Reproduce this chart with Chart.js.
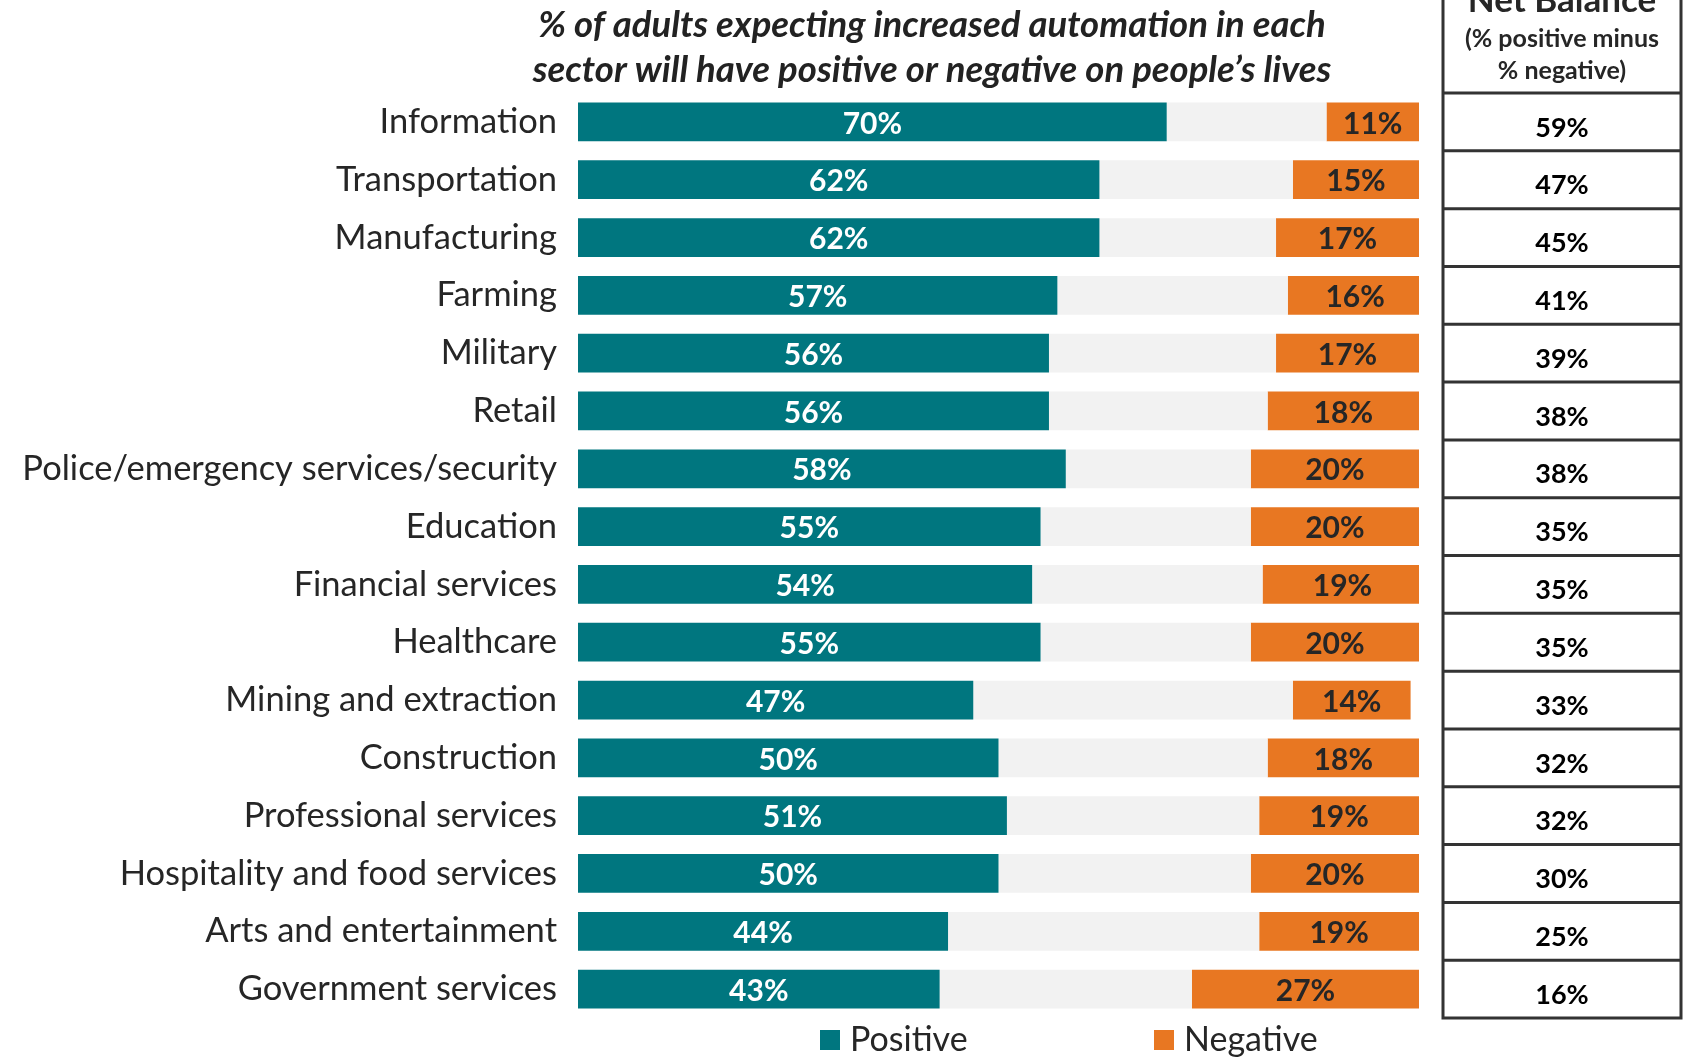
<!DOCTYPE html>
<html lang="en">

<head>
    <meta charset="UTF-8">
    <title>Automation by sector</title>
    <script src="https://cdn.jsdelivr.net/npm/chart.js"></script>
    <style>
        html, body { margin: 0; padding: 0; background: #fff; }
        .grafico { width: 1686px; height: 1057px; position: relative; }
    </style>
</head>

<body>
    <div class="grafico">
        <canvas id="graficoSetores"></canvas>
    </div>
</body>

</html>

<script>
    // sectors, top to bottom
    const setores = [
        'Information', 'Transportation', 'Manufacturing', 'Farming', 'Military', 'Retail',
        'Police/emergency services/security', 'Education', 'Financial services', 'Healthcare',
        'Mining and extraction', 'Construction', 'Professional services',
        'Hospitality and food services', 'Arts and entertainment', 'Government services'
    ];
    const positivo = [70, 62, 62, 57, 56, 56, 58, 55, 54, 55, 47, 50, 51, 50, 44, 43];
    // neither / don't know (grey middle part)
    const neutro = [19, 23, 21, 27.4, 27, 26, 22, 25, 27.4, 25, 38, 32, 30, 30, 37, 30];
    const negativo = [11, 15, 17, 16, 17, 18, 20, 20, 19, 20, 14, 18, 19, 20, 19, 27];
    const saldo = [59, 47, 45, 41, 39, 38, 38, 35, 35, 35, 33, 32, 32, 30, 25, 16];

    const titulo = [
        '% of adults expecting increased automation in each',
        'sector will have positive or negative on people\u2019s lives'
    ];
    const cabecalhoSaldo = ['Net Balance', '(% positive minus', '% negative)'];

    const TEAL = '#00767f';
    const LARANJA = '#e87722';
    const CINZA = '#f2f2f2';
    const FONTE = 'Lato, "Open Sans", sans-serif';

    // numbers inside the coloured bars
    const rotulosBarras = {
        id: 'rotulosBarras',
        afterDatasetsDraw(chart) {
            const ctx = chart.ctx;
            ctx.save();
            ctx.font = 'bold 30px ' + FONTE;
            ctx.textAlign = 'center';
            ctx.textBaseline = 'middle';
            [0, 2].forEach(d => {
                const meta = chart.getDatasetMeta(d);
                meta.data.forEach((bar, i) => {
                    const v = chart.data.datasets[d].data[i];
                    ctx.fillStyle = d === 0 ? '#ffffff' : '#262626';
                    ctx.fillText(v + '%', (bar.x + bar.base) / 2, bar.y + 2);
                });
            });
            ctx.restore();
        }
    };

    // title, net balance column and legend
    const extras = {
        id: 'extras',
        afterDraw(chart) {
            const ctx = chart.ctx;
            const y = chart.scales.y;
            const faixa = y.height / setores.length;
            ctx.save();

            // title
            ctx.fillStyle = '#222';
            ctx.textAlign = 'center';
            ctx.textBaseline = 'middle';
            ctx.font = 'italic bold 36.5px ' + FONTE;
            ctx.fillText(titulo[0], 932, 25);
            ctx.fillText(titulo[1], 932, 70);

            // net balance table
            const esq = 1443, dir = 1681, cx = (esq + dir) / 2;
            ctx.strokeStyle = '#333';
            ctx.lineWidth = 3;
            ctx.beginPath();
            ctx.moveTo(esq, -5);
            ctx.lineTo(esq, y.bottom);
            ctx.moveTo(dir, -5);
            ctx.lineTo(dir, y.bottom);
            for (let i = 0; i <= setores.length; i++) {
                const ly = y.top + i * faixa;
                ctx.moveTo(esq - 1.5, ly);
                ctx.lineTo(dir + 1.5, ly);
            }
            ctx.stroke();

            ctx.fillStyle = '#262626';
            ctx.textBaseline = 'alphabetic';
            ctx.font = 'bold 35px ' + FONTE;
            ctx.fillText(cabecalhoSaldo[0], cx, 12);
            ctx.textBaseline = 'middle';
            ctx.font = 'bold 25px ' + FONTE;
            ctx.fillText(cabecalhoSaldo[1], cx, 39);
            ctx.fillText(cabecalhoSaldo[2], cx, 71);

            ctx.fillStyle = '#000';
            ctx.font = 'bold 27px ' + FONTE;
            saldo.forEach((v, i) => {
                ctx.fillText(v + '%', cx, y.getPixelForValue(i) + 6);
            });

            // legend
            ctx.font = '34px ' + FONTE;
            ctx.textAlign = 'left';
            ctx.fillStyle = TEAL;
            ctx.fillRect(820, 1030, 20, 20);
            ctx.fillStyle = LARANJA;
            ctx.fillRect(1154, 1030, 20, 20);
            ctx.fillStyle = '#262626';
            ctx.fillText(chart.data.datasets[0].label, 850, 1040);
            ctx.fillText(chart.data.datasets[2].label, 1184, 1040);

            ctx.restore();
        }
    };

    new Chart(document.getElementById('graficoSetores').getContext('2d'), {
        type: 'bar',
        data: {
            labels: setores,
            datasets: [
                { label: 'Positive', data: positivo, backgroundColor: TEAL },
                { label: 'Neither', data: neutro, backgroundColor: CINZA },
                { label: 'Negative', data: negativo, backgroundColor: LARANJA }
            ]
        },
        options: {
            indexAxis: 'y',
            responsive: true,
            maintainAspectRatio: false,
            animation: false,
            layout: { padding: { top: 93, right: 267, bottom: 39, left: 0 } },
            datasets: {
                bar: { categoryPercentage: 1, barPercentage: 0.67 }
            },
            scales: {
                x: { stacked: true, min: 0, max: 100, display: false },
                y: {
                    stacked: true,
                    grid: { display: false },
                    border: { display: false },
                    afterFit(scale) { scale.width = 578; },
                    ticks: {
                        padding: 13,
                        color: '#262626',
                        font: { family: FONTE, size: 34.5 }
                    }
                }
            },
            plugins: {
                legend: { display: false },
                tooltip: { enabled: false }
            }
        },
        plugins: [rotulosBarras, extras]
    });
</script>
